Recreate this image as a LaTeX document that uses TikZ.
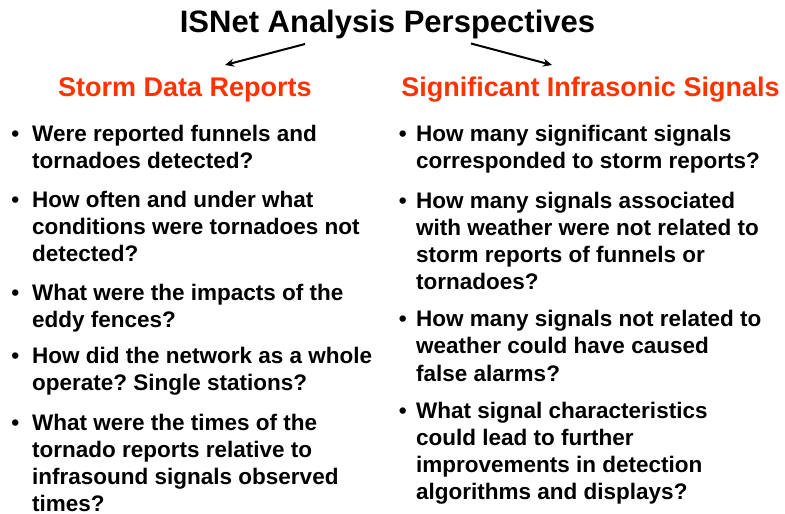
\documentclass[tikz,border=0pt]{standalone}
\usepackage{fontspec}
\setmainfont{Liberation Sans}
\usetikzlibrary{arrows.meta}
\definecolor{headred}{RGB}{255,51,0}
\newcommand\bodylines[1]{\begin{tabular}[t]{@{}l@{}}#1\end{tabular}}
\frenchspacing
\begin{document}
\begin{tikzpicture}[x=1pt,y=-1pt,
  titlesty/.style={anchor=base, inner sep=0pt, font=\fontsize{31}{36}\selectfont\bfseries},
  headsty/.style={anchor=base, inner sep=0pt, text=headred, font=\fontsize{27}{32}\selectfont\bfseries},
  body/.style={anchor=base west, inner sep=0pt, font=\fontsize{22.5}{27.2}\selectfont\bfseries},
  bulletsty/.style={anchor=base, inner sep=0pt, font=\fontsize{22.5}{27.2}\selectfont\bfseries},
  arrowsty/.style={line width=2pt, -{Stealth[length=9pt,width=8pt]}}]
\useasboundingbox (0,0) rectangle (785,514);
\fill[white] (0,0) rectangle (785,514);

\node[titlesty] (title) at (387.5,32.5) {ISNet Analysis Perspectives};
\node[headsty] (hleft) at (185,96) {Storm Data Reports};
\node[headsty] (hright) at (590.5,96) {Significant Infrasonic Signals};

\coordinate (al0) at (305,44);
\coordinate (al1) at (225,65);
\coordinate (ar0) at (471,43.5);
\coordinate (ar1) at (552,65);
\draw[arrowsty] (al0) -- (al1);
\draw[arrowsty] (ar0) -- (ar1);

% left column
\node[bulletsty] (bl1) at (15.3,141.7) {•};
\node[body] (l1) at (32,141.7) {\bodylines{Were reported funnels and\\tornadoes detected?}};
\node[bulletsty] (bl2) at (15.3,207.3) {•};
\node[body] (l2) at (32,207.3) {\bodylines{How often and under what\\conditions were tornadoes not\\detected?}};
\node[bulletsty] (bl3) at (15.3,300) {•};
\node[body] (l3) at (32,300) {\bodylines{What were the impacts of the\\eddy fences?}};
\node[bulletsty] (bl4) at (15.3,363.3) {•};
\node[body] (l4) at (32,363.3) {\bodylines{How did the network as a whole\\operate? Single stations?}};
\node[bulletsty] (bl5) at (15.3,430) {•};
\node[body] (l5) at (32,430) {\bodylines{What were the times of the\\tornado reports relative to\\infrasound signals observed\\times?}};

% right column
\node[bulletsty] (br1) at (402.7,141.7) {•};
\node[body] (r1) at (416,141.7) {\bodylines{How many significant signals\\corresponded to storm reports?}};
\node[bulletsty] (br2) at (402.7,208.3) {•};
\node[body] (r2) at (416,208.3) {\bodylines{How many signals associated\\with weather were not related to\\storm reports of funnels or\\tornadoes?}};
\node[bulletsty] (br3) at (402.7,326.7) {•};
\node[body] (r3) at (416,326.7) {\bodylines{How many signals not related to\\weather could have caused\\false alarms?}};
\node[bulletsty] (br4) at (402.7,418.3) {•};
\node[body] (r4) at (416,418.3) {\bodylines{What signal characteristics\\could lead to further\\improvements in detection\\algorithms and displays?}};
\end{tikzpicture}
\end{document}
